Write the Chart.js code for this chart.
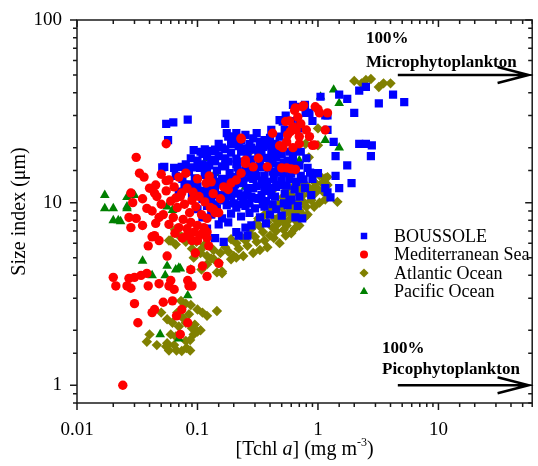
<!DOCTYPE html>
<html>
<head>
<meta charset="utf-8">
<script src="https://cdn.jsdelivr.net/npm/chart.js@4/dist/chart.umd.min.js"></script>
<style>
  html, body { margin: 0; padding: 0; background: #fff; }
  #wrap { width: 538px; height: 466px; }
</style>
</head>
<body>
<div id="wrap"><canvas id="sizeChart" width="538" height="466"></canvas></div>
<script>
// [Tchl a] (mg m-3), size index (um)
const boussole = [
  [0.055,27],[0.063,27.5],[0.083,28.5],[0.17,27],[0.057,22],[0.051,15.6],
  [1.05,38],[1.5,39],[1.75,37],[2.2,41],[2.5,43],[3.2,35],[4.2,39],[5.2,35.5],[2.0,31],
  [2.2,21],[2.5,21],[2.8,20.6],[2.75,18],
  [1.75,16],[1.9,12.8],[1.4,14],[1.4,18],[1.35,21.5],[1.2,25],[1.2,30],
  [1.15,12],[1.5,12],[1.2,11.4],[1.27,10.7],
  [0.65,33.5],[0.54,30],[0.48,28.3],[0.79,31],[1.15,30],[0.9,28],[0.7,25.5],[0.51,27.8],[0.62,34.3],[0.78,34.3],[0.85,31],
  [0.093,19.4],[0.106,19],[0.053,15.7],[0.064,15.5],[0.074,15.7],[0.088,17.5],[0.12,18],[0.14,19.5],[0.16,20],[0.19,21],
  [0.175,24],[0.2,23],[0.18,23],[0.2,21.5],[0.21,24],[0.23,22],[0.25,23.5],[0.27,21],[0.29,22.5],[0.31,24],[0.33,21.5],
  [0.36,22],[0.39,20.5],[0.44,21],[0.48,23],[0.53,25],[0.41,25],[0.6,28],[0.7,27],
  [0.1,17],[0.11,18.5],[0.13,17.2],[0.15,18],[0.17,17.5],[0.19,18.8],[0.21,17.4],[0.23,19],[0.26,18],[0.28,17.2],
  [0.3,19.5],[0.34,18.2],[0.37,17.5],[0.41,19],[0.45,17.8],[0.5,18.5],[0.56,17],[0.62,18],[0.72,19],[0.8,17.5],
  [0.066,14],[0.075,13.5],[0.085,14.8],[0.095,13.6],[0.105,15.5],[0.115,14.2],[0.125,16],[0.135,13.8],[0.145,15],[0.16,13.5],
  [0.17,16],[0.185,14.5],[0.2,13.5],[0.215,15.6],[0.235,14],[0.255,16.2],[0.275,13.7],[0.3,15],[0.33,16.5],[0.36,14],
  [0.39,15.5],[0.43,13.5],[0.47,16],[0.52,14.5],[0.58,13.5],[0.65,15],[0.72,14],[0.82,15.5],[0.9,13.5],[1.0,14.5],
  [0.07,11.5],[0.078,12.5],[0.09,11],[0.1,12.3],[0.11,10.5],[0.12,11.8],[0.13,10.2],[0.14,12.5],[0.15,11],[0.16,10.3],
  [0.175,12],[0.19,10.8],[0.205,12.6],[0.22,11.2],[0.24,10.2],[0.26,12],[0.28,10.8],[0.31,12.3],[0.34,11],[0.37,10.2],
  [0.4,12],[0.44,10.8],[0.48,12.5],[0.53,11.2],[0.58,10.3],[0.64,11.8],[0.7,10.8],[0.78,12],[0.88,11],
  [0.1,9.2],[0.11,8.3],[0.12,9.6],[0.13,8.6],[0.145,9.3],[0.16,8.2],[0.175,9.7],[0.19,8.7],[0.21,9.4],[0.23,8.4],
  [0.25,9.6],[0.27,8.8],[0.3,9.3],[0.33,8.3],[0.36,9.5],[0.4,8.6],[0.45,9.2],[0.5,8.5],[0.56,9.7],[0.65,8.3],[0.74,8.2],
  [0.37,7.7],[0.25,7.3],[0.28,7.5],[0.26,6.6],[0.21,6.9],[0.165,6.1],[0.14,6.4],[0.22,6.6],[0.12,7.2],[0.15,7.6],[0.18,7.8],
  [0.155,12.8],[0.18,13.2],[0.23,12.8],[0.29,13.5],[0.35,12.6],[0.42,14.8],[0.24,16.8],[0.32,19],[0.46,19.2],[0.14,11.5],
  [0.11,16.2],[0.12,14.8],[0.13,12],[0.14,16.8],[0.15,13],[0.16,15.8],[0.17,11.2],[0.18,16.8],[0.19,13.8],[0.2,11.8],
  [0.21,16.2],[0.22,14.6],[0.23,10.9],[0.24,13.2],[0.25,15],[0.26,11],[0.27,14.6],[0.28,16.6],[0.29,12],[0.31,14],
  [0.32,10.5],[0.33,17.8],[0.34,13.2],[0.35,15.6],[0.36,11.6],[0.38,13],[0.39,17.6],[0.41,11],[0.42,16.4],[0.45,12.2],
  [0.46,14.6],[0.5,13.2],[0.52,16.6],[0.55,12.4],[0.6,14.4],[0.62,16.4],[0.66,13],[0.7,16],[0.76,13.4],[0.86,14.6],
  [0.12,10.8],[0.14,9.8],[0.17,10.4],[0.2,9.9],[0.23,9.8],[0.27,9.9],[0.31,10.6],[0.35,9.8],[0.42,9.8],[0.52,9.9],
  [0.6,10.4],[0.68,9.6],[0.115,19.6],[0.13,19.2],[0.15,21],[0.17,19.6],[0.22,20.4],[0.25,19.8],[0.28,20],[0.35,20.2],
  [0.4,22.6],[0.43,18.2],[0.5,20.5],[0.58,19],[0.66,19.6],[0.08,16.2],[0.09,15.6],[0.095,12.4],[0.085,12.6],[0.105,11.6]
];
const mediterranean = [
  [0.024,1.0],
  [0.02,3.9],[0.021,3.5],[0.027,3.85],[0.026,3.5],[0.028,3.4],[0.03,3.9],[0.034,4],[0.038,4.1],[0.039,3.5],[0.03,2.8],
  [0.032,2.2],[0.042,2.5],[0.044,2.6],[0.048,3.6],[0.052,2.85],[0.062,2.9],[0.058,3.5],[0.06,3.75],[0.064,3.35],[0.067,2.4],
  [0.074,2.6],[0.072,1.9],[0.083,2.2],[0.085,3.5],[0.09,3.5],[0.083,3.75],[0.088,4.3],[0.096,5.3],[0.11,4.5],[0.12,3.95],
  [0.124,5.8],[0.15,4.65],[0.056,5.1],[0.039,5.8],[0.044,6.6],[0.048,6.2],[0.082,6.6],[0.1,6.2],[0.12,6.4],[0.042,6.5],
  [0.028,7.3],[0.035,7.5],
  [0.031,17.7],[0.033,14.5],[0.036,13.8],[0.05,14.3],[0.055,21],[0.028,11.3],[0.029,10],[0.035,10.5],[0.038,9.3],[0.027,8.3],
  [0.031,8.2],[0.048,8.3],[0.044,11.3],[0.045,12.5],[0.058,13.3],[0.066,10.6],[0.074,11.3],[0.09,10.3],[0.13,13],
  [0.04,12],[0.046,10.8],[0.05,9.8],[0.055,11.6],[0.06,10.2],[0.064,12.2],[0.068,9.4],[0.072,10.8],[0.078,9.8],[0.082,12],
  [0.086,8.8],[0.092,11.4],[0.097,9.5],[0.103,10.8],[0.108,8.6],[0.115,10.1],[0.12,8.2],[0.128,9.4],[0.135,11.2],[0.14,8.8],
  [0.052,8.6],[0.058,7.6],[0.063,8.3],[0.07,7.3],[0.076,8.1],[0.082,7.2],[0.088,7.8],[0.094,6.9],[0.1,7.5],[0.107,6.7],
  [0.113,7.3],[0.12,6.9],[0.065,6.8],[0.075,6.4],[0.09,6.2],[0.045,7.7],[0.042,9.0],[0.055,13.2],[0.07,13.8],[0.08,14.5],
  [0.1,13.5],[0.118,12.8],[0.125,14],
  [0.23,22.5],[0.25,17.1],[0.32,17.5],[0.38,15.7],[0.29,15.7],[0.23,14.5],[0.21,13.3],[0.136,9.2],[0.15,8.8],[0.165,12.2],
  [0.18,11.8],[0.19,12.8],[0.155,10.5],[0.23,22.3],[0.25,16.4],
  [0.42,24],[0.5,15.5],[0.55,15.5],[0.6,15.3],[0.65,15.2],[0.51,20],[0.56,23.5],[0.62,26],[0.68,29.4],[0.64,32],[0.74,33.5],
  [0.7,21],[0.62,20],[0.85,23],[0.95,33.5],[1.03,31],[1.2,31],[1.15,25],[0.94,20.7],[0.76,34],[0.65,33],[1.0,32.5],
  [0.9,20.6],[0.54,27.8],[0.59,24.5],[0.7,23],[0.58,28],[0.66,25],[0.72,27],[0.8,25],[0.55,21.5],[0.48,20.5]
];
const atlantic = [
  [2.0,46.4],[2.3,45],[2.5,47],[2.75,47.5],[3.2,43],[3.5,45],[4.0,45],
  [1.0,25.5],[1.0,20.6],[0.84,17.7],[0.79,21],[0.4,16.4],[0.27,18.9],
  [1.2,13.8],[1.2,12.5],[1.45,10.1],[1.15,13.6],[0.95,11.3],[1.03,10],[0.93,9.5],[1.1,11.5],[1.15,10.4],[1.03,14.1],
  [0.42,11.7],[0.51,10.7],[0.62,12.2],[0.74,13],[0.7,9.1],[0.79,8.4],[0.48,8.4],
  [0.145,4.15],[0.16,4.2],[0.15,4.7],[0.19,4.9],[0.21,5.0],[0.24,5.1],[0.29,5.3],[0.33,5.5],[0.38,5.7],[0.48,6.0],
  [0.6,6.8],[0.21,6.0],[0.25,6.2],[0.3,6.5],[0.35,6.9],[0.42,7.3],[0.51,8],[0.62,9.4],[0.4,9.4],[0.35,10],
  [0.17,5.7],[0.155,5.3],[0.137,4.9],
  [0.55,7.5],[0.65,8],[0.72,8.8],[0.8,9.5],[0.88,10.3],[0.45,7],[0.38,7.8],[0.58,9],[0.68,10],[0.75,11],
  [0.85,12],[0.95,12.8],[0.5,9.5],[0.56,10.6],[0.3,7.6],[0.27,6.8],[0.23,6.5],[0.19,6.3],[0.7,7.5],[0.82,8.6],
  [0.32,8.2],[0.36,8.6],[0.44,8.1],[0.47,9.8],[0.53,8.7],[0.61,8.6],[0.66,9.2],[0.77,10],[0.84,11.1],[0.9,11.8],
  [0.98,12],[1.08,12.8],[0.28,7.2],[0.33,7.4],[0.4,6.6],[0.46,7.6],[0.52,7.1],[0.57,8],[0.64,7.2],[0.26,5.8],
  [0.31,6.1],[0.36,6.2],[0.43,6.4],[0.54,6.6],[0.18,5.4],[0.22,5.6],[0.12,5.1],[0.08,6.1],[0.09,5.6],[0.115,5.9],
  [0.07,6.6],[0.065,7.1],[0.6,11],[0.7,12],[0.78,12.6],[0.9,14.2],[0.55,11.8],
  [0.06,6.2],[0.066,5.9],[0.074,6.5],[0.088,6.8],[0.098,6.1],[0.093,5],[0.106,5.3],[0.058,6.2],[0.106,5.5],[0.13,4.95],
  [0.16,4.1],[0.136,5.5],[0.2,5.1],[0.108,4.3],[0.12,4.6],
  [0.073,2.9],[0.08,2.8],[0.088,2.75],[0.1,2.6],[0.11,2.5],[0.12,2.4],[0.145,2.55],[0.05,2.5],[0.056,2.3],[0.062,2.2],
  [0.07,2.1],[0.08,2.2],[0.09,2.05],[0.1,1.97],[0.095,2.15],[0.04,1.9],[0.038,1.73],[0.046,1.66],[0.055,1.63],[0.058,1.55],
  [0.064,1.66],[0.067,1.55],[0.074,1.54],[0.081,1.6],[0.087,1.55],[0.087,1.77],[0.093,1.9],[0.106,2.0],[0.08,1.75],[0.066,1.85],
  [0.06,1.9],[0.056,1.7],[0.068,2.5],[0.075,2.35],[0.085,2.45]
];
const pacific = [
  [0.017,11],[0.017,9.3],[0.02,9.3],[0.026,10.7],[0.026,9.3],[0.022,8],[0.03,11],[0.026,9.5],[0.056,9.5],[0.062,9.1],
  [0.02,8.0],[0.023,7.9],
  [0.035,4.8],[0.042,4.0],[0.054,4.0],[0.056,4.5],[0.07,4.4],[0.066,4.3],[0.072,4.35],[0.088,4.3],[0.083,3.1],[0.049,1.9],
  [0.07,1.8],
  [1.05,38],[1.35,41.5],[1.5,35],[1.15,22],[1.5,20],
  [0.12,17.5],[0.14,14.5],[0.25,12.2],[0.28,19.5],[0.7,17]
];

const legendOrder = ['BOUSSOLE', 'Mediterranean Sea', 'Atlantic Ocean', 'Pacific Ocean'];
const xRange = [0.01, 60];
const yRange = [0.8, 100];
const notes = [
  { x: 2.5, y: 75, text: '100%' },
  { x: 2.5, y: 55.2, text: 'Microphytoplankton' },
  { x: 3.4, y: 1.5, text: '100%' },
  { x: 3.4, y: 1.15, text: 'Picophytoplankton' }
];
const arrows = [
  { from: 4.6, to: 56, y: 50 },
  { from: 4.6, to: 56, y: 1.0 }
];

const serif = '"Liberation Serif", "Times New Roman", serif';
Chart.defaults.font.family = serif;
Chart.defaults.color = '#000';

const toPts = arr => arr.map(p => ({ x: p[0], y: p[1] }));
const isDecade = v => Math.abs(Math.log10(v) - Math.round(Math.log10(v))) < 1e-6;

const frame = {
  id: 'frame',
  afterDraw(chart) {
    const { ctx, chartArea: a } = chart;
    const xs = chart.scales.x, ys = chart.scales.y;
    ctx.save();
    ctx.strokeStyle = '#1a1a1a';
    ctx.lineWidth = 1.5;
    ctx.strokeRect(a.left, a.top, a.right - a.left, a.bottom - a.top);
    ctx.beginPath();
    xs.ticks.forEach(t => {
      const p = xs.getPixelForValue(t.value);
      if (p < a.left - 0.5 || p > a.right + 0.5) return;
      const len = isDecade(t.value) ? 7 : 4;
      ctx.moveTo(p, a.bottom); ctx.lineTo(p, a.bottom + len);
      ctx.moveTo(p, a.top); ctx.lineTo(p, a.top + len);
    });
    ys.ticks.forEach(t => {
      const p = ys.getPixelForValue(t.value);
      if (p < a.top - 0.5 || p > a.bottom + 0.5) return;
      const len = isDecade(t.value) ? 7 : 4;
      ctx.moveTo(a.left - len, p); ctx.lineTo(a.left, p);
      ctx.moveTo(a.right - len, p); ctx.lineTo(a.right, p);
    });
    ctx.stroke();

    // notes and arrows
    ctx.fillStyle = '#000';
    ctx.font = 'bold 17px ' + serif;
    ctx.textBaseline = 'alphabetic';
    ctx.textAlign = 'left';
    notes.forEach(n => ctx.fillText(n.text, xs.getPixelForValue(n.x), ys.getPixelForValue(n.y)));
    ctx.strokeStyle = '#000';
    ctx.lineWidth = 2.5;
    arrows.forEach(ar => {
      const x0 = xs.getPixelForValue(ar.from), x1 = xs.getPixelForValue(ar.to), py = ys.getPixelForValue(ar.y);
      ctx.beginPath();
      ctx.moveTo(x0, py); ctx.lineTo(x1, py);
      ctx.moveTo(x1 - 31, py - 8); ctx.lineTo(x1, py); ctx.lineTo(x1 - 31, py + 8);
      ctx.stroke();
    });

    // legend
    ctx.font = '18px ' + serif;
    ctx.textBaseline = 'middle';
    legendOrder.forEach((name, i) => {
      const ds = chart.data.datasets.find(d => d.label === name);
      const cy = 236 + i * 18.5;
      ctx.fillStyle = ds.backgroundColor;
      Chart.helpers.drawPoint(ctx, { pointStyle: ds.pointStyle, radius: ds.legendRadius, borderWidth: 0, rotation: 0 }, 364, cy);
      ctx.fillStyle = '#000';
      ctx.fillText(name, 394, cy + 1);
    });

    // axis titles
    ctx.font = '20px ' + serif;
    ctx.textAlign = 'center';
    ctx.textBaseline = 'middle';
    ctx.save();
    ctx.translate(20, (a.top + a.bottom) / 2);
    ctx.rotate(-Math.PI / 2);
    ctx.fillText('Size index (\u03bcm)', 0, 0);
    ctx.restore();

    const parts = [
      { t: '[Tchl ', f: '20px ' + serif, dy: 0 },
      { t: 'a', f: 'italic 20px ' + serif, dy: 0 },
      { t: '] (mg m', f: '20px ' + serif, dy: 0 },
      { t: '-3', f: '12px ' + serif, dy: -9 },
      { t: ')', f: '20px ' + serif, dy: 0 }
    ];
    ctx.textAlign = 'left';
    ctx.textBaseline = 'alphabetic';
    let total = 0;
    parts.forEach(p => { ctx.font = p.f; p.w = ctx.measureText(p.t).width; total += p.w; });
    let cx = (a.left + a.right) / 2 - total / 2;
    parts.forEach(p => { ctx.font = p.f; ctx.fillText(p.t, cx, 455 + p.dy); cx += p.w; });
    ctx.restore();
  }
};

// transparent built-in tick marks only space the labels off the axis
const hiddenGrid = len => ({ display: true, drawOnChartArea: false, drawTicks: true, tickLength: len, color: 'rgba(0,0,0,0)' });

new Chart(document.getElementById('sizeChart'), {
  type: 'scatter',
  data: {
    datasets: [
      { label: 'Mediterranean Sea', data: toPts(mediterranean), backgroundColor: '#ff0000', pointStyle: 'circle', pointRadius: 4.7, legendRadius: 4 },
      { label: 'BOUSSOLE', data: toPts(boussole), backgroundColor: '#0000ff', pointStyle: 'rect', pointRadius: 5.8, legendRadius: 4.6 },
      { label: 'Pacific Ocean', data: toPts(pacific), backgroundColor: '#008000', pointStyle: 'triangle', pointRadius: 5.6, legendRadius: 4.8 },
      { label: 'Atlantic Ocean', data: toPts(atlantic), backgroundColor: '#808000', pointStyle: 'rectRot', pointRadius: 5.2, legendRadius: 4.6 }
    ]
  },
  options: {
    responsive: false,
    animation: false,
    events: [],
    layout: { padding: { top: 20, right: 1, left: 0, bottom: 0 } },
    elements: { point: { borderWidth: 0 } },
    plugins: { legend: { display: false }, tooltip: { enabled: false } },
    scales: {
      x: {
        type: 'logarithmic',
        min: xRange[0], max: xRange[1],
        grid: hiddenGrid(16),
        border: { display: false },
        ticks: {
          autoSkip: false, maxRotation: 0, padding: 0,
          font: { size: 19 },
          callback: v => isDecade(v) ? String(v) : ''
        },
        afterFit: s => { s.height = 63; }
      },
      y: {
        type: 'logarithmic',
        min: yRange[0], max: yRange[1],
        grid: hiddenGrid(15),
        border: { display: false },
        ticks: {
          autoSkip: false, padding: 0,
          font: { size: 19 },
          callback: v => isDecade(v) ? String(v) : ''
        },
        afterFit: s => { s.width = 77; }
      }
    }
  },
  plugins: [frame]
});
</script>
</body>
</html>
